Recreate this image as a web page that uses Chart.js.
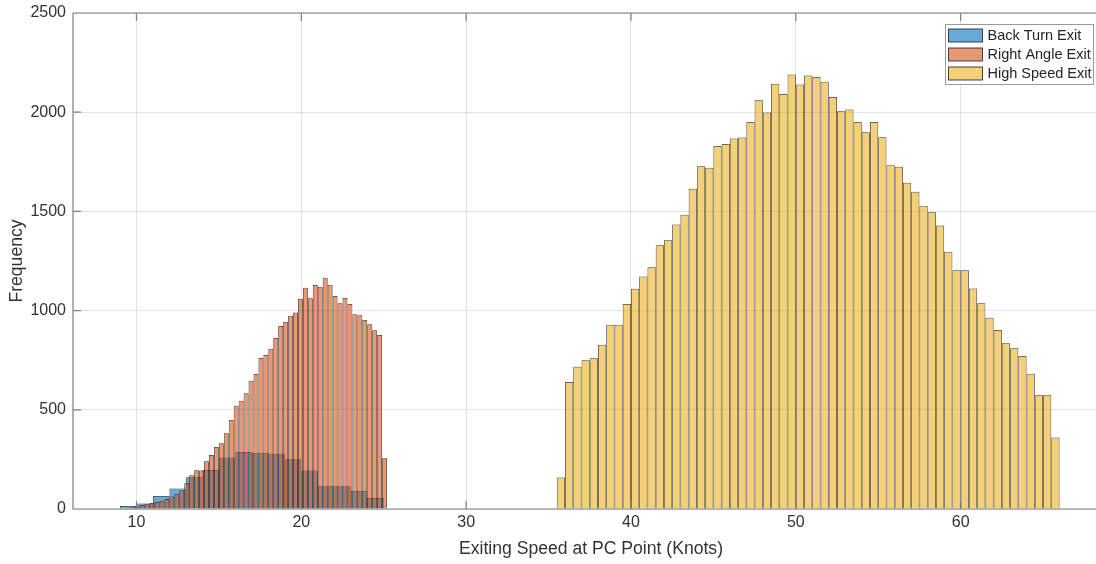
<!DOCTYPE html>
<html lang="en">
  <head>
    <meta charset="UTF-8" />
    <title>Exiting Speed at PC Point</title>
    <script src="https://cdn.jsdelivr.net/npm/chart.js"></script>
    <style>
      html, body { margin: 0; padding: 0; overflow: hidden; background: #fff; }
    </style>
  </head>
  <body>
    <canvas id="speedChart" width="1130" height="564"></canvas>

    <script>
      // bin centres (knots) and counts for each exit type
      const backTurnBins = [9.5, 10.5, 11.5, 12.5, 13.5, 14.5, 15.5, 16.5, 17.5, 18.5, 19.5, 20.5, 21.5, 22.5, 23.5, 24.5];
      const backTurnCounts = [15, 28, 66, 103, 160, 196, 259, 287, 283, 278, 251, 194, 117, 115, 92, 55];

      const rightAngleBins = [
        9.75, 10.05, 10.35, 10.65, 10.95, 11.25, 11.55, 11.85, 12.15, 12.45, 12.75, 13.05, 13.35,
        13.65, 13.95, 14.25, 14.55, 14.85, 15.15, 15.45, 15.75, 16.05, 16.35, 16.65, 16.95, 17.25,
        17.55, 17.85, 18.15, 18.45, 18.75, 19.05, 19.35, 19.65, 19.95, 20.25, 20.55, 20.85, 21.15,
        21.45, 21.75, 22.05, 22.35, 22.65, 22.95, 23.25, 23.55, 23.85, 24.15, 24.45, 24.75, 25.05
      ];
      const rightAngleCounts = [
        8, 13, 20, 26, 30, 35, 41, 50, 63, 77, 93, 130, 170,
        195, 194, 241, 272, 312, 332, 382, 449, 520, 546, 583, 647, 680,
        761, 776, 808, 862, 922, 944, 974, 991, 1060, 1115, 1062, 1129, 1120,
        1166, 1130, 1073, 1037, 1063, 1033, 981, 976, 953, 931, 901, 877, 256
      ];

      const highSpeedBins = [
        35.75, 36.25, 36.75, 37.25, 37.75, 38.25, 38.75, 39.25, 39.75, 40.25, 40.75, 41.25,
        41.75, 42.25, 42.75, 43.25, 43.75, 44.25, 44.75, 45.25, 45.75, 46.25, 46.75, 47.25,
        47.75, 48.25, 48.75, 49.25, 49.75, 50.25, 50.75, 51.25, 51.75, 52.25, 52.75, 53.25,
        53.75, 54.25, 54.75, 55.25, 55.75, 56.25, 56.75, 57.25, 57.75, 58.25, 58.75, 59.25,
        59.75, 60.25, 60.75, 61.25, 61.75, 62.25, 62.75, 63.25, 63.75, 64.25, 64.75, 65.25, 65.75
      ];
      const highSpeedCounts = [
        159, 640, 717, 750, 760, 828, 929, 929, 1033, 1110, 1172, 1218,
        1330, 1354, 1434, 1483, 1614, 1728, 1720, 1830, 1840, 1867, 1872, 1950,
        2060, 1998, 2144, 2092, 2190, 2139, 2185, 2178, 2154, 2077, 2005, 2013,
        1950, 1899, 1951, 1874, 1735, 1725, 1644, 1599, 1528, 1496, 1429, 1297,
        1204, 1204, 1112, 1037, 964, 902, 835, 810, 771, 682, 573, 573, 360
      ];

      const xTicks = [10, 20, 30, 40, 50, 60];
      const yTicks = [0, 500, 1000, 1500, 2000, 2500];

      const FONT = '"Liberation Sans", Arial, Helvetica, sans-serif';
      const TEXT = "#333333";
      const AXIS = "#7f7f7f";
      const GRID = "rgba(38,38,38,0.13)";

      const toPoints = (bins, counts) => bins.map((x, i) => ({ x: x, y: counts[i] }));

      // each histogram gets its own x scale so the bar width follows its own bin width
      const xScale = (shown) => ({
        type: "linear",
        display: shown,
        position: "bottom",
        min: 6.15,
        max: 69,
        offset: false,
        afterBuildTicks: (s) => { s.ticks = xTicks.map((v) => ({ value: v })); },
        afterFit: (s) => { if (shown) s.height = 55; },
        grid: { offset: false, color: GRID, drawTicks: false },
        border: { display: false },
        ticks: { autoSkip: false, maxRotation: 0, padding: 4, color: TEXT, font: { family: FONT, size: 16 } },
        title: {
          display: shown,
          text: "Exiting Speed at PC Point (Knots)",
          color: TEXT,
          font: { family: FONT, size: 17.6 },
          padding: { top: 0, bottom: 4 }
        }
      });

      const barStyle = {
        grouped: false,
        categoryPercentage: 1,
        barPercentage: 1,
        inflateAmount: 0,
        borderWidth: 0.75,
        borderColor: "rgba(25,25,25,0.9)"
      };

      // axes box with inward tick marks, drawn over the bars
      const axesFrame = {
        id: "axesFrame",
        afterDatasetsDraw(chart) {
          const { ctx, chartArea: a, scales } = chart;
          ctx.save();
          ctx.strokeStyle = AXIS;
          ctx.lineWidth = 1.2;
          ctx.beginPath();
          ctx.moveTo(a.left, a.top);
          ctx.lineTo(a.right, a.top);
          ctx.moveTo(a.left, a.top);
          ctx.lineTo(a.left, a.bottom);
          ctx.lineTo(a.right, a.bottom);
          xTicks.forEach((v) => {
            const px = scales.x.getPixelForValue(v);
            ctx.moveTo(px, a.top);
            ctx.lineTo(px, a.top + 8);
            ctx.moveTo(px, a.bottom);
            ctx.lineTo(px, a.bottom - 8);
          });
          yTicks.forEach((v) => {
            const py = scales.y.getPixelForValue(v);
            ctx.moveTo(a.left, py);
            ctx.lineTo(a.left + 8, py);
          });
          ctx.stroke();
          ctx.restore();
        }
      };

      // boxed legend in the upper right corner of the axes
      const boxedLegend = {
        id: "boxedLegend",
        afterDraw(chart) {
          const { ctx, chartArea: a } = chart;
          const items = chart.data.datasets;
          const rowH = 19, patchW = 34, patchH = 13;
          ctx.save();
          ctx.font = "14.5px " + FONT;
          const textW = Math.max(...items.map((d) => ctx.measureText(d.label).width));
          const w = 3 + patchW + 5 + textW + 2;
          const h = items.length * rowH + 3;
          const left = Math.round(a.right - 16 - w) + 0.5;
          const top = Math.round(a.top + 11) + 0.5;
          ctx.fillStyle = "#ffffff";
          ctx.fillRect(left, top, w, h);
          ctx.strokeStyle = "#9a9a9a";
          ctx.lineWidth = 1;
          ctx.strokeRect(left, top, w, h);
          items.forEach((d, i) => {
            const cy = top + 11 + i * rowH;
            ctx.fillStyle = d.backgroundColor;
            ctx.fillRect(left + 3, cy - patchH / 2, patchW, patchH);
            ctx.strokeStyle = "rgba(38,38,38,0.85)";
            ctx.strokeRect(left + 3, cy - patchH / 2, patchW, patchH);
            ctx.fillStyle = "#262626";
            ctx.textBaseline = "middle";
            ctx.textAlign = "left";
            ctx.fillText(d.label, left + 3 + patchW + 5, cy);
          });
          ctx.restore();
        }
      };

      new Chart(document.getElementById("speedChart"), {
        type: "bar",
        data: {
          datasets: [
            Object.assign({
              label: "Back Turn Exit",
              data: toPoints(backTurnBins, backTurnCounts),
              xAxisID: "xBT",
              order: 3,
              backgroundColor: "rgba(0,114,189,0.6)"
            }, barStyle),
            Object.assign({
              label: "Right Angle Exit",
              data: toPoints(rightAngleBins, rightAngleCounts),
              xAxisID: "xRA",
              order: 2,
              backgroundColor: "rgba(217,83,25,0.6)"
            }, barStyle),
            Object.assign({
              label: "High Speed Exit",
              data: toPoints(highSpeedBins, highSpeedCounts),
              xAxisID: "x",
              order: 1,
              backgroundColor: "rgba(237,177,32,0.6)"
            }, barStyle)
          ]
        },
        options: {
          responsive: false,
          animation: false,
          layout: { padding: { top: 13, right: 21, left: 0, bottom: 0 } },
          plugins: {
            legend: { display: false },
            tooltip: { enabled: false }
          },
          scales: {
            x: xScale(true),
            xBT: xScale(false),
            xRA: xScale(false),
            y: {
              type: "linear",
              min: 0,
              max: 2500,
              afterBuildTicks: (s) => { s.ticks = yTicks.map((v) => ({ value: v })); },
              afterFit: (s) => {
                s.width = 73;
                s.paddingTop = 0;
                s.paddingBottom = 0;
              },
              grid: { color: GRID, drawTicks: false },
              border: { display: false },
              ticks: {
                padding: 7,
                color: TEXT,
                font: { family: FONT, size: 16 },
                callback: (v) => String(v)
              },
              title: {
                display: true,
                text: "Frequency",
                color: TEXT,
                font: { family: FONT, size: 17.6 },
                padding: { top: 6.4, bottom: 0 }
              }
            }
          }
        },
        plugins: [axesFrame, boxedLegend]
      });
    </script>
  </body>
</html>
